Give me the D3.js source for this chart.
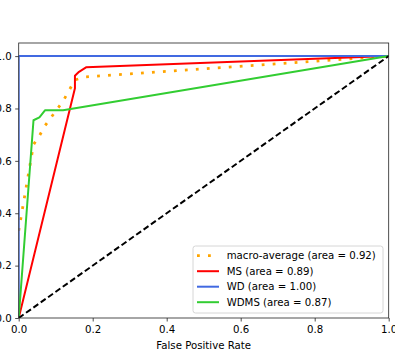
<!DOCTYPE html>
<html>
<head>
<meta charset="utf-8">
<script src="https://cdn.jsdelivr.net/npm/d3@7"></script>
<style>
  body { margin: 0; background: #fff; }
  text { font-family: "DejaVu Sans", sans-serif; }
</style>
</head>
<body>
<svg id="roc"></svg>
<script>
// ROC curves
const seriesNames = ["macro-average", "MS", "WD", "WDMS"];
const areas = [0.92, 0.89, 1.00, 0.87];

const macroFpr = [0, 0.04, 0.056, 0.071, 0.12, 0.152, 0.182, 1];
const macroTpr = [0.333, 0.662, 0.696, 0.734, 0.828, 0.909, 0.921, 1];

const msFpr = [0, 0.152, 0.152, 0.163, 0.182, 1];
const msTpr = [0, 0.877, 0.925, 0.94, 0.957, 1];

const wdFpr = [0, 0, 1];
const wdTpr = [0, 1, 1];

const wdmsFpr = [0, 0.04, 0.056, 0.071, 0.12, 1];
const wdmsTpr = [0, 0.755, 0.766, 0.793, 0.793, 1];

const xTicks = [0, 0.2, 0.4, 0.6, 0.8, 1.0];
const yTicks = [0, 0.2, 0.4, 0.6, 0.8, 1.0];

const W = 395, H = 358;
const margin = { top: 43, right: 6.3, bottom: 40, left: 18.7 };
const width = W - margin.left - margin.right;
const height = H - margin.top - margin.bottom;
const fs = 10.2;

const svg = d3.select("#roc").attr("width", W).attr("height", H);
const g = svg.append("g")
    .attr("transform", "translate(" + margin.left + "," + margin.top + ")");

const x = d3.scaleLinear().domain([0, 1]).range([0, width]);
const y = d3.scaleLinear().domain([0, 1.05]).range([height, 0]);

g.append("clipPath").attr("id", "clip")
  .append("rect").attr("width", width).attr("height", height);

const line = d3.line().x(d => x(d[0])).y(d => y(d[1]));
const plot = g.append("g").attr("clip-path", "url(#clip)");

const curves = [
  { fpr: macroFpr, tpr: macroTpr, color: "#ffa500", w: 2.8, dash: "2.8,8.2" },
  { fpr: msFpr, tpr: msTpr, color: "#ff0000", w: 2, dash: null },
  { fpr: wdFpr, tpr: wdTpr, color: "#4169e1", w: 2, dash: null },
  { fpr: wdmsFpr, tpr: wdmsTpr, color: "#32cd32", w: 2, dash: null }
];

curves.forEach(c => {
  plot.append("path")
      .datum(d3.zip(c.fpr, c.tpr))
      .attr("d", line)
      .attr("fill", "none")
      .attr("stroke", c.color)
      .attr("stroke-width", c.w)
      .attr("stroke-dasharray", c.dash)
      .attr("stroke-linejoin", "round");
});

// chance diagonal
plot.append("path")
    .datum([[0, 0], [1, 1]])
    .attr("d", line)
    .attr("fill", "none")
    .attr("stroke", "#000")
    .attr("stroke-width", 2)
    .attr("stroke-dasharray", "6,3");

// Axes
const xAxis = g.append("g")
    .attr("transform", "translate(0," + height + ")")
    .call(d3.axisBottom(x).tickValues(xTicks).tickFormat(d3.format(".1f"))
      .tickSize(3.5).tickPadding(4.5));
const yAxis = g.append("g")
    .call(d3.axisLeft(y).tickValues(yTicks).tickFormat(d3.format(".1f"))
      .tickSize(3.5).tickPadding(3.5));
[xAxis, yAxis].forEach(a => {
  a.select(".domain").remove();
  a.selectAll("line").attr("stroke", "#222").attr("stroke-width", 0.8);
  a.selectAll("text").attr("font-size", fs).attr("fill", "#000")
    .style("font-family", "DejaVu Sans");
});

// frame
g.append("rect")
    .attr("width", width).attr("height", height)
    .attr("fill", "none").attr("stroke", "#222").attr("stroke-width", 0.8);

g.append("text")
    .attr("x", width / 2).attr("y", height + 31)
    .attr("text-anchor", "middle").attr("font-size", fs)
    .text("False Positive Rate");

// Legend
const legend = svg.append("g").attr("transform", "translate(193,246)");
legend.append("rect")
    .attr("width", 190).attr("height", 67).attr("rx", 2.5)
    .attr("fill", "#fff").attr("fill-opacity", 0.8)
    .attr("stroke", "#ccc").attr("stroke-width", 0.8);

seriesNames.forEach((name, i) => {
  const c = curves[i];
  const yy = 9.7 + i * 15.5;
  legend.append("line")
      .attr("x1", 4).attr("x2", 26).attr("y1", yy).attr("y2", yy)
      .attr("stroke", c.color).attr("stroke-width", c.w)
      .attr("stroke-dasharray", c.dash);
  legend.append("text")
      .attr("x", 33.7).attr("y", yy + 3.6)
      .attr("font-size", fs)
      .text(name + " (area = " + areas[i].toFixed(2) + ")");
});
</script>
</body>
</html>
